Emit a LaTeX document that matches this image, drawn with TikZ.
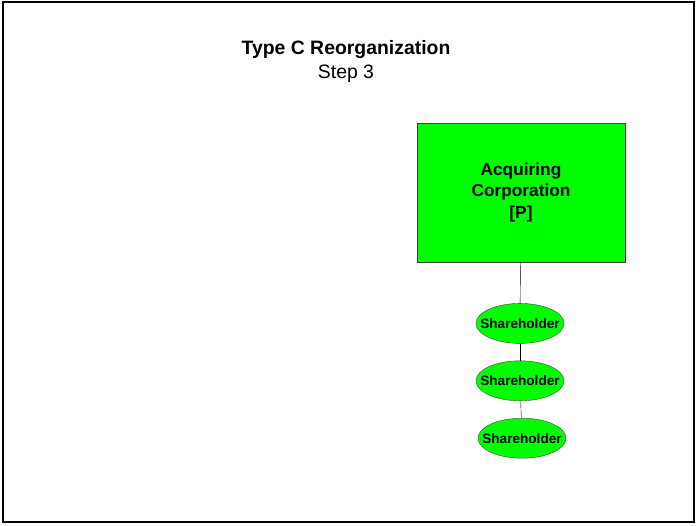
\documentclass[tikz,border=0pt]{standalone}
\usepackage{fontspec}
\setmainfont{Liberation Sans}
\usetikzlibrary{positioning}
\usetikzlibrary{shapes.geometric}
\definecolor{corpgreen}{RGB}{0,255,0}
\newcommand\myholdergap{17pt}

\begin{document}
\begin{tikzpicture}[
    x=1pt, y=-1pt,
    corp/.style = {
        rectangle,
        minimum width=208pt,
        minimum height=139pt,
        fill=corpgreen,
        draw=black!75,
        align=center,
        font=\fontsize{17.3}{21.5}\selectfont\bfseries
      },
    holder/.style = {
        ellipse,
        inner sep=0pt,
        minimum width=88pt,
        minimum height=40pt,
        fill=corpgreen,
        draw=black!75,
        font=\fontsize{13.6}{16}\selectfont\bfseries
      },
    ]
    \useasboundingbox (0,0) rectangle (696,525);
    \draw [line width=2pt] (3,2) rectangle (694,522);

    \node (title) [align=center, font=\fontsize{19.4}{24}\selectfont] at (346,61)
      {\textbf{Type C Reorganization}\\Step 3};

    \node (acquirer) [corp] at (521,192.5) {Acquiring\\Corporation\\{[P]}};
    \node (holder a) [holder, below=41pt of acquirer, xshift=-1pt] {\makebox[0pt]{Shareholder}};
    \node (holder b) [holder, below=\myholdergap of holder a] {\makebox[0pt]{Shareholder}};
    \node (holder c) [holder, below=\myholdergap of holder b, xshift=2pt] {\makebox[0pt]{Shareholder}};

    \draw (acquirer) -- (holder a);
    \draw (holder a) -- (holder b);
    \draw (holder b) -- (holder c);
  \end{tikzpicture}
\end{document}
